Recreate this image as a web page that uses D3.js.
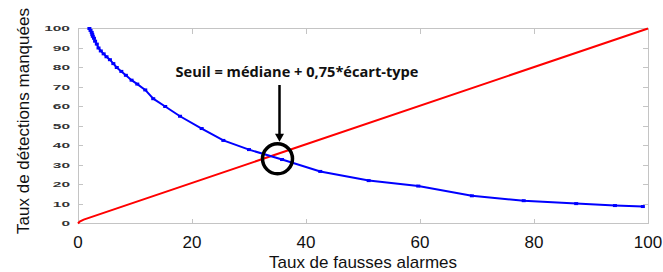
<!DOCTYPE html>
<meta charset="utf-8">
<style>
    body {
        margin: 0;
        background: white;
    }

    svg {
        font-family: "Liberation Sans", Arial, sans-serif;
    }

    .frame line,
    .frame rect {
        fill: none;
        stroke: #c4c4c4;
        stroke-width: 1;
        shape-rendering: crispEdges;
    }
</style>
<body>
<script src="https://cdn.jsdelivr.net/npm/d3@7"></script>
<script>
    // values
    const xTicks = [0, 20, 40, 60, 80, 100];
    const yTicks = [0, 10, 20, 30, 40, 50, 60, 70, 80, 90, 100];

    // taux de fausses alarmes / taux de détections manquées
    const blueX = [2.0, 2.2, 2.4, 2.5, 2.6, 2.8, 3.0, 3.3, 3.6, 4.0, 4.5, 5.0, 5.6, 6.2, 6.8, 7.6, 8.4, 9.4, 10.4, 11.8,
        13.2, 15.3, 17.9, 21.7, 25.5, 30.0, 35.8, 42.5, 51.0, 59.7, 69.1, 78.2, 87.4, 94.2, 99.1];
    const blueY = [100, 99, 98, 97, 96, 95, 93.5, 92, 90, 88.5, 87, 85.5, 84, 82, 80, 78, 76, 73.5, 71.5, 68.5,
        64, 60, 55, 48.7, 42.6, 37.9, 32.8, 26.7, 22.0, 19.2, 14.2, 11.7, 10.2, 9.2, 8.7];

    const redX = [0, 0.3, 1, 100];
    const redY = [0, 1, 2, 100];

    // point d'équilibre entouré
    const thresholdPoint = [35.0, 33.2];
    const thresholdLabel = "Seuil = médiane + 0,75*écart-type";

    const width = 663, height = 272;

    const svg = d3.select('body')
        .append('svg')
        .attr('width', width)
        .attr('height', height);

    const x = d3.scaleLinear().domain([0, 100]).range([78, 648]);
    const y = d3.scaleLinear().domain([0, 100]).range([223.5, 28.5]);

    // frame with inside ticks on all four sides
    const frame = svg.append('g').attr('class', 'frame');
    frame.append('rect')
        .attr('x', x(0) + 0.5)
        .attr('y', y(100))
        .attr('width', x(100) - x(0))
        .attr('height', y(0) - y(100));

    const tickLen = 5;
    xTicks.slice(1, -1).forEach(t => {
        frame.append('line')
            .attr('x1', x(t) + 0.5).attr('x2', x(t) + 0.5)
            .attr('y1', y(0)).attr('y2', y(0) - tickLen);
        frame.append('line')
            .attr('x1', x(t) + 0.5).attr('x2', x(t) + 0.5)
            .attr('y1', y(100)).attr('y2', y(100) + tickLen);
    });
    yTicks.slice(1, -1).forEach(t => {
        frame.append('line')
            .attr('x1', x(0)).attr('x2', x(0) + tickLen)
            .attr('y1', y(t)).attr('y2', y(t));
        frame.append('line')
            .attr('x1', x(100)).attr('x2', x(100) - tickLen)
            .attr('y1', y(t)).attr('y2', y(t));
    });

    // tick labels
    svg.append('g')
        .selectAll('text')
        .data(xTicks)
        .enter().append('text')
        .attr('x', x)
        .attr('y', 248)
        .attr('text-anchor', 'middle')
        .style('font-size', '17px')
        .style('fill', '#111')
        .text(d => d);

    svg.append('g')
        .selectAll('text')
        .data(yTicks)
        .enter().append('text')
        .attr('x', 70)
        .attr('y', d => y(d) + 2.5)
        .attr('text-anchor', 'end')
        .attr('textLength', d => String(d).length * 8.6)
        .attr('lengthAdjust', 'spacingAndGlyphs')
        .style('font-size', '7px')
        .style('font-weight', 'bold')
        .style('fill', '#333')
        .text(d => d);

    // axis titles
    svg.append('text')
        .attr('x', (x(0) + x(100)) / 2)
        .attr('y', 268)
        .attr('text-anchor', 'middle')
        .style('font-size', '17px')
        .style('fill', '#111')
        .text('Taux de fausses alarmes');

    svg.append('text')
        .attr('transform', 'translate(29,121) rotate(-90)')
        .attr('text-anchor', 'middle')
        .style('font-size', '17px')
        .style('fill', '#111')
        .text('Taux de détections manquées');

    // curves
    const line = d3.line()
        .x(d => x(d[0]))
        .y(d => y(d[1]));

    const red = d3.zip(redX, redY);
    const blue = d3.zip(blueX, blueY);

    svg.append('path')
        .datum(red)
        .attr('d', line)
        .style('fill', 'none')
        .style('stroke', '#ff0000')
        .style('stroke-width', 2);

    svg.append('path')
        .datum(blue)
        .attr('d', line)
        .style('fill', 'none')
        .style('stroke', '#0000ff')
        .style('stroke-width', 2);

    svg.append('g')
        .selectAll('rect')
        .data(blue)
        .enter().append('rect')
        .attr('x', d => x(d[0]) - 2)
        .attr('y', d => y(d[1]) - 1.5)
        .attr('width', 4)
        .attr('height', 3)
        .style('fill', '#0000ff');

    // annotation
    const cx = x(thresholdPoint[0]), cy = y(thresholdPoint[1]);

    svg.append('circle')
        .attr('cx', cx)
        .attr('cy', cy)
        .attr('r', 15)
        .style('fill', 'none')
        .style('stroke', 'black')
        .style('stroke-width', 3.5);

    svg.append('line')
        .attr('x1', cx + 2).attr('x2', cx + 2)
        .attr('y1', 85).attr('y2', cy - 24)
        .style('stroke', 'black')
        .style('stroke-width', 2.5);

    svg.append('path')
        .attr('d', `M${cx + 2 - 4.5},${cy - 25} L${cx + 2 + 4.5},${cy - 25} L${cx + 2},${cy - 17} Z`)
        .style('fill', 'black');

    svg.append('text')
        .attr('x', 297)
        .attr('y', 77)
        .attr('text-anchor', 'middle')
        .style('font-family', '"Open Sans", sans-serif')
        .style('font-size', '14.6px')
        .style('font-weight', 'bold')
        .style('fill', '#111')
        .text(thresholdLabel);
</script>
</body>
</html>
